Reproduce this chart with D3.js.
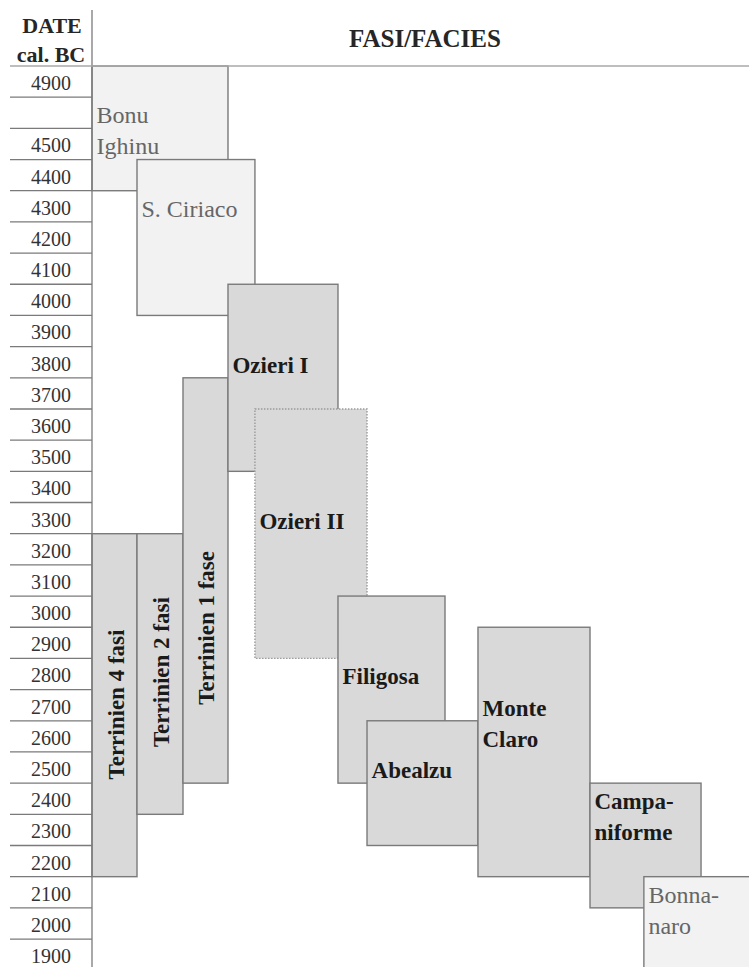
<!DOCTYPE html>
<html>
<head>
<meta charset="utf-8">
<script src="https://cdn.jsdelivr.net/npm/d3@7"></script>
<style>
  html, body { margin: 0; padding: 0; background: #fff; }
  svg { display: block; font-family: "Liberation Serif", "DejaVu Serif", serif; }
</style>
</head>
<body>
<svg id="chart" width="749" height="967"></svg>
<script>
// row labels of the date column (one blank row between 4900 and 4500)
const rowLabels = ["4900", "", "4500", "4400", "4300", "4200", "4100", "4000", "3900", "3800",
  "3700", "3600", "3500", "3400", "3300", "3200", "3100", "3000", "2900", "2800", "2700",
  "2600", "2500", "2400", "2300", "2200", "2100", "2000", "1900"];

// phases, in drawing order
const phases = ["Bonu Ighinu", "S. Ciriaco", "Terrinien 4 fasi", "Terrinien 2 fasi", "Terrinien 1 fase",
  "Ozieri I", "Ozieri II", "Filigosa", "Abealzu", "Monte Claro", "Campaniforme", "Bonnanaro"];
// first and last row (cal. BC) covered by each phase
const startDates = ["4900", "4400", "3200", "3200", "3700", "4000", "3600", "3000", "2600", "2900", "2400", "2100"];
const endDates   = ["4400", "4000", "2200", "2400", "2500", "3500", "2900", "2500", "2300", "2200", "2100", "1900"];
// text shown in each box (one entry per line) and the row where the first line sits
const labelLines = [["Bonu", "Ighinu"], ["S. Ciriaco"], ["Terrinien 4 fasi"], ["Terrinien 2 fasi"],
  ["Terrinien 1 fase"], ["Ozieri I"], ["Ozieri II"], ["Filigosa"], ["Abealzu"], ["Monte", "Claro"],
  ["Campa-", "niforme"], ["Bonna-", "naro"]];
const labelRows = ["", "4300", null, null, null, "3800", "3300", "2800", "2500", "2700", "2400", "2100"];

// layout only: horizontal extent of each box as a share of the phase area,
// and the vertical centre (in rows) of the rotated Terrinien labels
const layout = {
  span: [[0, 0.207], [0.0685, 0.248], [0, 0.0685], [0.0685, 0.1385], [0.1385, 0.207],
    [0.207, 0.3744], [0.248, 0.4186], [0.3744, 0.5373], [0.4186, 0.5875], [0.5875, 0.758],
    [0.758, 0.927], [0.840, 1.05]],
  rotatedCentre: { "Terrinien 4 fasi": 20.48, "Terrinien 2 fasi": 19.44, "Terrinien 1 fase": 18.02 },
  light: ["Bonu Ighinu", "S. Ciriaco", "Bonnanaro"],
  dotted: ["Ozieri II"]
};

const W = 749, H = 967;
const axisX = 92, headerY = 66, rowH = 31.18;

const svg = d3.select("#chart");

const y = d3.scaleBand()
  .domain(d3.range(rowLabels.length))
  .range([headerY, headerY + rowLabels.length * rowH])
  .paddingInner(0);

const x = d3.scaleLinear().domain([0, 1]).range([axisX, W]);

const rowOf = d => rowLabels.indexOf(d);

// date column
const left = svg.append("g");
left.selectAll("line.row")
  .data(d3.range(1, rowLabels.length))
  .join("line")
  .attr("class", "row")
  .attr("x1", 10).attr("x2", axisX)
  .attr("y1", i => y(i)).attr("y2", i => y(i))
  .attr("stroke", "#7a7a7a").attr("stroke-width", 1.3);

left.selectAll("text.date")
  .data(rowLabels)
  .join("text")
  .attr("class", "date")
  .attr("x", 51)
  .attr("y", (d, i) => y(i) + 24)
  .attr("text-anchor", "middle")
  .attr("font-size", 20)
  .attr("fill", "#333")
  .text(d => d);

// header
svg.append("text").attr("x", 52).attr("y", 33).attr("text-anchor", "middle")
  .attr("font-size", 22).attr("font-weight", "bold").attr("fill", "#262626").text("DATE");
svg.append("text").attr("x", 51).attr("y", 62).attr("text-anchor", "middle")
  .attr("font-size", 22).attr("font-weight", "bold").attr("fill", "#262626").text("cal. BC");
svg.append("text").attr("x", 425).attr("y", 47).attr("text-anchor", "middle")
  .attr("font-size", 25).attr("font-weight", "bold").attr("fill", "#262626").text("FASI/FACIES");

// phase boxes
const boxes = svg.append("g").selectAll("g.phase")
  .data(phases.map((name, i) => ({
    name,
    top: y(rowOf(startDates[i])),
    bottom: y(rowOf(endDates[i])) + y.bandwidth(),
    x0: x(layout.span[i][0]),
    x1: x(layout.span[i][1]),
    lines: labelLines[i],
    labelRow: labelRows[i],
    light: layout.light.includes(name),
    dotted: layout.dotted.includes(name)
  })))
  .join("g")
  .attr("class", "phase");

boxes.append("rect")
  .attr("x", d => d.x0)
  .attr("y", d => d.top)
  .attr("width", d => d.x1 - d.x0)
  .attr("height", d => d.bottom - d.top)
  .attr("fill", d => d.light ? "#f2f2f2" : "#d9d9d9")
  .attr("stroke", d => d.dotted ? "#9a9a9a" : "#7a7a7a")
  .attr("stroke-width", 1.4)
  .attr("stroke-dasharray", d => d.dotted ? "1.5,1.5" : null);

// horizontal labels
boxes.filter(d => d.labelRow !== null)
  .each(function (d) {
    const g = d3.select(this);
    const r = rowOf(d.labelRow);
    g.selectAll("text")
      .data(d.lines)
      .join("text")
      .attr("x", d.x0 + 4.5)
      .attr("y", (t, k) => y(r + k) + 26)
      .attr("font-size", d.light ? 24 : 23)
      .attr("font-weight", d.light ? "normal" : "bold")
      .attr("fill", d.light ? "#666" : "#1a1a1a")
      .text(t => t);
  });

// rotated Terrinien labels
boxes.filter(d => d.labelRow === null)
  .append("text")
  .attr("transform", d => {
    const cx = (d.x0 + d.x1) / 2 + 9;
    const cy = headerY + layout.rotatedCentre[d.name] * rowH;
    return `translate(${cx},${cy}) rotate(-90)`;
  })
  .attr("text-anchor", "middle")
  .attr("font-size", 23)
  .attr("font-weight", "bold")
  .attr("fill", "#1a1a1a")
  .text(d => d.lines[0]);

// frame lines drawn last
svg.append("line")
  .attr("x1", axisX).attr("x2", axisX).attr("y1", 10).attr("y2", H)
  .attr("stroke", "#7a7a7a").attr("stroke-width", 1.3);
svg.append("line")
  .attr("x1", 10).attr("x2", W).attr("y1", headerY).attr("y2", headerY)
  .attr("stroke", "#a8a8a8").attr("stroke-width", 1.6);
</script>
</body>
</html>
